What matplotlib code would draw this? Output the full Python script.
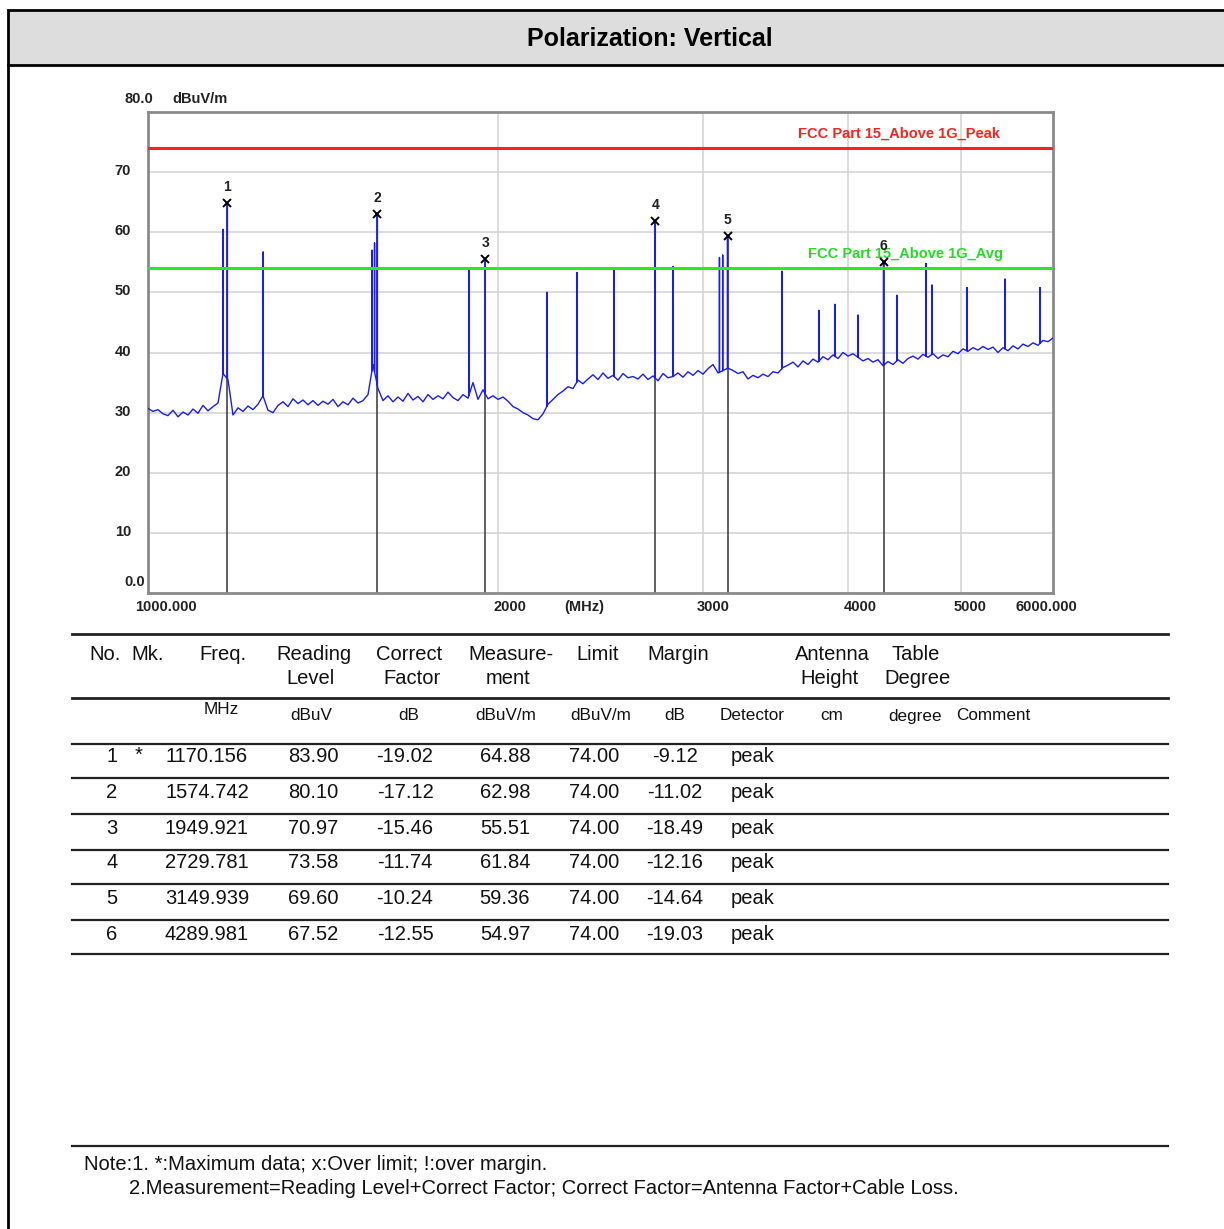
import numpy as np
import matplotlib
matplotlib.use('Agg')
import matplotlib.pyplot as plt
from matplotlib.patches import Rectangle
from matplotlib.lines import Line2D

plt.rcParams['font.family'] = ['Liberation Sans', 'DejaVu Sans']

# noise floor of the sweep, dBuV/m, evenly spaced on the log axis 1000..6000 MHz
floor = [30.7, 30.2, 30.5, 29.8, 29.5, 30.4, 29.3, 30.1, 29.6, 30.6,
         29.9, 31.2, 30.3, 31.0, 31.6, 36.5, 35.5, 29.6, 30.8, 30.2,
         31.1, 30.5, 31.4, 32.8, 30.4, 30.0, 31.2, 31.8, 31.0, 32.3,
         31.5, 32.1, 31.3, 32.0, 31.2, 31.9, 31.4, 32.2, 31.0, 31.8,
         31.3, 32.4, 31.6, 32.0, 33.0, 38.0, 34.0, 32.0, 32.8, 31.8,
         32.6, 31.9, 33.2, 32.1, 32.7, 31.8, 33.0, 32.2, 32.8, 32.3,
         33.4, 32.5, 32.0, 33.0, 32.4, 35.0, 32.2, 33.8, 32.3, 32.8,
         32.2, 32.6, 31.9, 31.0, 30.6, 30.0, 29.6, 29.0, 28.8, 29.8,
         31.4, 32.2, 33.0, 33.6, 34.3, 34.0, 35.4, 34.8, 35.6, 36.3,
         35.5, 36.6, 35.7, 36.2, 35.4, 36.5, 35.8, 36.0, 35.6, 36.4,
         35.5, 36.1, 35.3, 36.5, 35.8, 36.0, 36.6, 35.9, 36.8, 36.2,
         37.0, 36.4, 37.3, 38.0, 36.6, 37.0, 37.4, 37.0, 36.5, 36.8,
         35.6, 36.2, 35.8, 36.4, 36.0, 36.8, 36.6, 37.5, 37.9, 38.4,
         37.6, 38.6, 38.0, 38.9, 38.4, 39.3, 38.8, 39.6, 39.0, 40.0,
         39.4, 39.8, 39.2, 38.6, 39.0, 38.4, 38.8, 37.8, 38.5, 38.0,
         38.8, 38.2, 39.0, 39.4, 38.9, 39.7, 39.2, 39.8, 39.0, 39.6,
         39.3, 40.2, 39.8, 40.6, 40.2, 40.8, 40.4, 41.0, 40.5, 40.9,
         40.0, 40.8, 40.3, 41.1, 40.6, 41.4, 41.0, 41.6, 41.2, 42.0,
         41.8, 42.4]

# narrow emissions seen on the trace (MHz, dBuV/m)
spike_freq = [1160.0, 1170.156, 1256.0, 1558.0, 1566.0, 1574.742, 1888.0,
              1949.921, 2203.0, 2338.0, 2516.0, 2729.781, 2828.0, 3100.0,
              3120.0, 3149.939, 3509.0, 3775.0, 3897.0, 4079.0, 4289.981,
              4406.0, 4666.0, 4722.0, 5061.0, 5456.0, 5848.0]
spike_peak = [60.5, 64.88, 56.7, 57.0, 58.2, 62.98, 54.0,
              55.51, 50.0, 53.3, 54.0, 61.84, 54.3, 55.8,
              56.2, 59.36, 53.5, 47.0, 48.0, 46.2, 54.97,
              49.5, 54.8, 51.2, 50.8, 52.2, 50.8]

# marker table
mk_no = ['1', '2', '3', '4', '5', '6']
mk_star = ['*', '', '', '', '', '']
mk_freq = [1170.156, 1574.742, 1949.921, 2729.781, 3149.939, 4289.981]
mk_reading = [83.90, 80.10, 70.97, 73.58, 69.60, 67.52]
mk_factor = [-19.02, -17.12, -15.46, -11.74, -10.24, -12.55]
mk_meas = [64.88, 62.98, 55.51, 61.84, 59.36, 54.97]
mk_limit = [74.00, 74.00, 74.00, 74.00, 74.00, 74.00]
mk_margin = [-9.12, -11.02, -18.49, -12.16, -14.64, -19.03]
mk_detector = ['peak'] * 6

peak_limit = 74.0
avg_limit = 54.0

W, H = 1224, 1229
fig = plt.figure(figsize=(W / 100, H / 100), dpi=100)


def fx(x):
    return x / W


def fy(y):
    return 1 - y / H


# page frame and title bar
fig.patches.append(Rectangle((fx(8), fy(65)), fx(1240) - fx(8), fy(10) - fy(65),
                             transform=fig.transFigure, facecolor='#dddddd',
                             edgecolor='black', lw=2))
fig.add_artist(Line2D([fx(8), fx(8)], [fy(65), fy(1235)], color='black', lw=2,
                      transform=fig.transFigure))
fig.text(fx(650), fy(39), 'Polarization: Vertical', ha='center', va='center',
         fontsize=18, fontweight='bold')

# spectrum plot
ax = fig.add_axes([fx(148), fy(593), fx(1053) - fx(148), fy(112) - fy(593)])
ax.set_xscale('log')
ax.set_xlim(1000, 6000)
ax.set_ylim(0, 80)

freqs = np.geomspace(1000, 6000, len(floor))
tr_f = list(freqs)
tr_v = list(floor)
for f, p in zip(spike_freq, spike_peak):
    base = np.interp(np.log10(f), np.log10(freqs), floor)
    i = int(np.searchsorted(tr_f, f))
    tr_f[i:i] = [f, f, f]
    tr_v[i:i] = [base, p, base]

for f, m in zip(mk_freq, mk_meas):
    ax.plot([f, f], [0, m], color='#444444', lw=1.2, zorder=2)
ax.plot(tr_f, tr_v, color='#1a1aff', lw=1.0, zorder=3)

ax.axhline(peak_limit, color='#ff2020', lw=2.2, zorder=4)
ax.axhline(avg_limit, color='#22ee22', lw=2.2, zorder=4)
ax.text(5400, 75.8, 'FCC Part 15_Above 1G_Peak', color='#ff2020', fontsize=10.5,
        fontweight='bold', ha='right', zorder=5)
ax.text(5430, 55.8, 'FCC Part 15_Above 1G_Avg', color='#22dd22', fontsize=10.5,
        fontweight='bold', ha='right', zorder=5)

for n, f, m in zip(mk_no, mk_freq, mk_meas):
    ax.plot(f, m, marker='x', color='black', ms=6, mew=1.4, zorder=6)
    ax.text(f, m + 1.5, n, ha='center', va='bottom', fontsize=10,
            fontweight='bold', color='#222222', zorder=6)

ax.set_yticks(np.arange(10, 80, 10))
ax.set_xticks([2000, 3000, 4000, 5000])
ax.set_xticks([], minor=True)
ax.grid(True, color='#d6d6d6', lw=1.2)
ax.set_axisbelow(True)
ax.tick_params(left=False, bottom=False, labelleft=False, labelbottom=False)
for s in ax.spines.values():
    s.set_color('#8a8a8a')
    s.set_linewidth(2)

tk = dict(fontsize=10.5, fontweight='bold', color='#222222')
fig.text(fx(153), fy(99), '80.0', ha='right', va='center', **tk)
fig.text(fx(172), fy(99), 'dBuV/m', ha='left', va='center', **tk)
for v in range(10, 80, 10):
    fig.text(fx(131), fy(592 - v * 6.0125), str(v), ha='right', va='center', **tk)
fig.text(fx(145), fy(582), '0.0', ha='right', va='center', **tk)
for x, s in [(166, '1000.000'), (510, '2000'), (584, '(MHz)'), (713, '3000'),
             (860, '4000'), (970, '5000'), (1046, '6000.000')]:
    fig.text(fx(x), fy(607), s, ha='center', va='center', **tk)

# table rules
for y, w in [(634, 2), (698, 2), (744, 1.6), (778, 1.6), (814, 1.6), (850, 1.6),
             (884, 1.6), (920, 1.6), (954, 1.6), (1146, 1.6)]:
    fig.add_artist(Line2D([fx(72), fx(1168)], [fy(y), fy(y)], color='#222222',
                          lw=w, transform=fig.transFigure))

hd = dict(fontsize=14.5, ha='center', va='center', color='#111111')
for x, s in [(105, 'No.'), (148, 'Mk.'), (223, 'Freq.'), (314, 'Reading'),
             (409, 'Correct'), (511, 'Measure-'), (598, 'Limit'), (678, 'Margin'),
             (832, 'Antenna'), (916, 'Table')]:
    fig.text(fx(x), fy(655), s, **hd)
for x, s in [(311, 'Level'), (412, 'Factor'), (508, 'ment'), (830, 'Height'),
             (918, 'Degree')]:
    fig.text(fx(x), fy(679), s, **hd)

un = dict(fontsize=12.3, ha='center', va='center', color='#111111')
fig.text(fx(221), fy(709), 'MHz', **un)
for x, s in [(311, 'dBuV'), (409, 'dB'), (506, 'dBuV/m'), (601, 'dBuV/m'),
             (675, 'dB'), (752, 'Detector'), (832, 'cm'), (915, 'degree'),
             (993, 'Comment')]:
    fig.text(fx(x), fy(716), s, **un)

rw = dict(fontsize=14.5, va='center', color='#111111')
row_y = [757, 793, 828, 863, 899, 934]
for i, y in enumerate(row_y):
    fig.text(fx(112), fy(y), mk_no[i], ha='center', **rw)
    fig.text(fx(139), fy(y - 2), mk_star[i], ha='center', **rw)
    fig.text(fx(207), fy(y), '%.3f' % mk_freq[i], ha='center', **rw)
    fig.text(fx(313), fy(y), '%.2f' % mk_reading[i], ha='center', **rw)
    fig.text(fx(405), fy(y), '%.2f' % mk_factor[i], ha='center', **rw)
    fig.text(fx(505), fy(y), '%.2f' % mk_meas[i], ha='center', **rw)
    fig.text(fx(594), fy(y), '%.2f' % mk_limit[i], ha='center', **rw)
    fig.text(fx(675), fy(y), '%.2f' % mk_margin[i], ha='center', **rw)
    fig.text(fx(731), fy(y), mk_detector[i], ha='left', **rw)

fig.text(fx(84), fy(1165), 'Note:1. *:Maximum data; x:Over limit; !:over margin.',
         fontsize=14.5, va='center', color='#111111')
fig.text(fx(129), fy(1189), '2.Measurement=Reading Level+Correct Factor; '
         'Correct Factor=Antenna Factor+Cable Loss.',
         fontsize=14.5, va='center', color='#111111')

fig.savefig('out.png', dpi=100)
